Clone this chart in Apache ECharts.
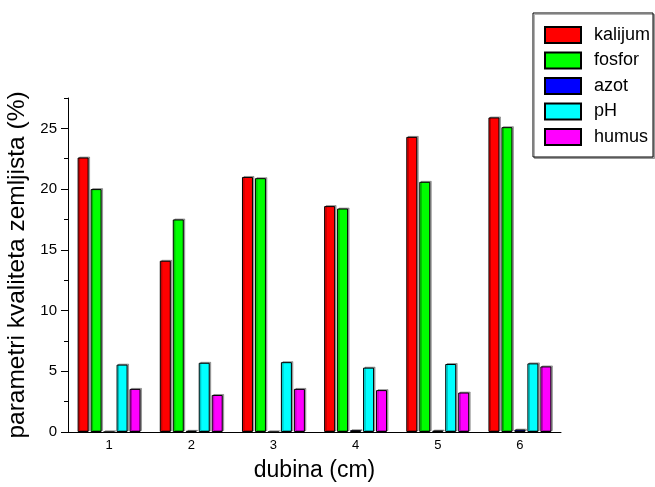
<!DOCTYPE html>
<html>
<head>
<meta charset="utf-8">
<script src="https://cdn.jsdelivr.net/npm/echarts@6/dist/echarts.min.js"></script>
<style>
  html, body { margin: 0; padding: 0; background: #fff; }
  #chart { width: 655px; height: 487px; }
</style>
</head>
<body>
<div id="chart"></div>
<script>
// Soil quality parameters by depth
const depths = ['1', '2', '3', '4', '5', '6'];
const kalijum = [22.6, 14.1, 21.0, 18.6, 24.3, 25.9];
const fosfor  = [20.0, 17.5, 20.9, 18.4, 20.6, 25.1];
const azot    = [0.0, 0.1, 0.0, 0.15, 0.12, 0.2];
const pH      = [5.55, 5.7, 5.75, 5.3, 5.6, 5.65];
const humus   = [3.55, 3.05, 3.55, 3.45, 3.25, 5.4];

const majorTicks = [0, 5, 10, 15, 20, 25];
const minorTicks = [2.5, 7.5, 12.5, 17.5, 22.5, 27.5];

const FONT = "'Liberation Sans', Arial, Helvetica, sans-serif";

function barSeries(name, data, color) {
  return {
    name: name,
    type: 'bar',
    data: data,
    barWidth: 11,
    barGap: '18%',
    itemStyle: {
      color: color,
      borderColor: '#000',
      borderWidth: 1,
      shadowColor: 'rgba(0,0,0,0.3)',
      shadowOffsetX: 1.5,
      shadowOffsetY: -1,
      shadowBlur: 0
    },
    emphasis: { disabled: true }
  };
}

const chart = echarts.init(document.getElementById('chart'));
chart.setOption({
  animation: false,
  backgroundColor: '#fff',
  textStyle: { fontFamily: FONT },
  grid: { left: 68, right: 94, top: 98, bottom: 55, containLabel: false, outerBoundsMode: 'none' },
  legend: {
    orient: 'vertical',
    left: 533,
    top: 13,
    padding: [13, 3, 11, 11],
    itemWidth: 36,
    itemHeight: 16,
    itemGap: 7.5,
    icon: 'rect',
    borderColor: '#000',
    borderWidth: 1,
    backgroundColor: '#fff',
    shadowColor: 'rgba(0,0,0,0.3)',
    shadowOffsetX: 1.5,
    shadowOffsetY: 1.5,
    shadowBlur: 0,
    textStyle: { fontSize: 18, lineHeight: 16, color: '#000', fontFamily: FONT, padding: [0, 0, 0, 8] },
    data: ['kalijum', 'fosfor', 'azot', 'pH', 'humus']
  },
  xAxis: [
    {
      type: 'category',
      data: depths,
      position: 'bottom',
      name: 'dubina (cm)',
      nameLocation: 'middle',
      nameGap: 27,
      nameTextStyle: { fontSize: 23, color: '#000', fontFamily: FONT, verticalAlign: 'top' },
      axisLine: { lineStyle: { color: '#000', width: 1 } },
      axisTick: { length: 4, lineStyle: { color: '#000' } },
      axisLabel: { fontSize: 13, color: '#000', margin: 7 },
      splitLine: { show: false }
    },
    {
      type: 'category',
      data: depths,
      position: 'bottom',
      axisLine: { show: false },
      axisTick: { inside: true, length: 4, lineStyle: { color: '#000' } },
      axisLabel: { show: false },
      splitLine: { show: false }
    },
    {
      type: 'category',
      data: depths,
      position: 'bottom',
      axisLine: { show: false },
      axisTick: { alignWithLabel: true, length: 2, lineStyle: { color: '#000' } },
      axisLabel: { show: false },
      splitLine: { show: false }
    },
    {
      type: 'category',
      data: depths,
      position: 'bottom',
      axisLine: { show: false },
      axisTick: { alignWithLabel: true, inside: true, length: 2, lineStyle: { color: '#000' } },
      axisLabel: { show: false },
      splitLine: { show: false }
    }
  ],
  yAxis: [
    {
      type: 'value',
      position: 'left',
      min: 0,
      max: 27.5,
      interval: 2.5,
      name: 'parametri kvaliteta zemljista (%)',
      nameLocation: 'middle',
      nameGap: 38,
      nameTextStyle: { fontSize: 24.5, color: '#000', fontFamily: FONT },
      axisLine: { show: true, lineStyle: { color: '#000', width: 1 } },
      axisTick: { show: true, length: 7, customValues: majorTicks, lineStyle: { color: '#000' } },
      axisLabel: { fontSize: 15, color: '#000', margin: 11, customValues: majorTicks },
      splitLine: { show: false }
    },
    {
      type: 'value',
      position: 'left',
      min: 0,
      max: 27.5,
      interval: 2.5,
      axisLine: { show: false },
      axisTick: { show: true, length: 4, customValues: minorTicks, lineStyle: { color: '#000' } },
      axisLabel: { show: false },
      splitLine: { show: false }
    }
  ],
  series: [
    barSeries('kalijum', kalijum, '#ff0000'),
    barSeries('fosfor', fosfor, '#00ff00'),
    barSeries('azot', azot, '#0000ff'),
    barSeries('pH', pH, '#00ffff'),
    barSeries('humus', humus, '#ff00ff')
  ]
});
</script>
</body>
</html>
